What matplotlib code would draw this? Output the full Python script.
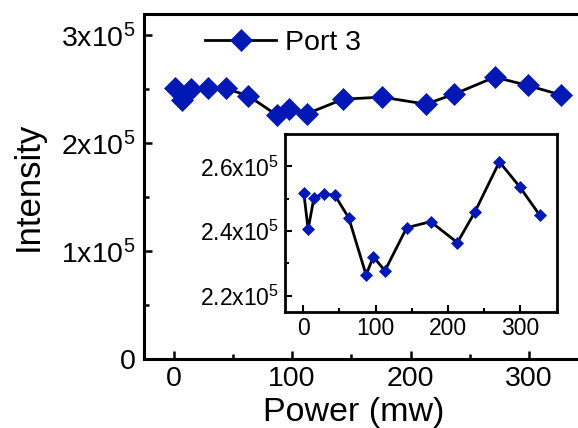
"""Port 3 intensity vs pump power, with a zoomed inset."""

import matplotlib
matplotlib.use("Agg")
import matplotlib.pyplot as plt
from matplotlib.ticker import FuncFormatter, MultipleLocator

power = [1, 7, 15, 29, 44, 63, 87, 97, 113, 143, 176, 213, 237, 271, 299, 327]
intensity = [2.518e5, 2.405e5, 2.503e5, 2.516e5, 2.510e5, 2.441e5, 2.264e5, 2.320e5,
             2.277e5, 2.410e5, 2.429e5, 2.364e5, 2.458e5, 2.614e5, 2.537e5, 2.448e5]
series_label = "Port 3"

BLUE = "#0019B5"

plt.rcParams["font.family"] = ["Liberation Sans", "DejaVu Sans"]
plt.rcParams["mathtext.fontset"] = "custom"
plt.rcParams["mathtext.rm"] = "Liberation Sans"
plt.rcParams["mathtext.default"] = "regular"


def sci(v, _pos, digits=0):
    if v == 0:
        return "0"
    return f"{v / 1e5:.{digits}f}x10$^5$"


fig = plt.figure(figsize=(5.78, 4.28), dpi=100)
ax = fig.add_axes([0.249, 0.1605, 0.769, 0.807])
ax.plot(power, intensity, color="black", lw=2, marker="D", ms=11,
        mfc=BLUE, mec=BLUE, mew=0.5, label=series_label)
ax.set_xlim(-25, 350)
ax.set_ylim(0, 3.2e5)
ax.xaxis.set_major_locator(MultipleLocator(100))
ax.xaxis.set_minor_locator(MultipleLocator(50))
ax.yaxis.set_major_locator(MultipleLocator(1e5))
ax.yaxis.set_minor_locator(MultipleLocator(0.5e5))
ax.yaxis.set_major_formatter(FuncFormatter(sci))
ax.tick_params(which="both", direction="in", width=1.8, labelsize=20.5)
ax.tick_params(axis="x", which="both", pad=5)
ax.tick_params(axis="y", which="both", pad=6)
ax.tick_params(which="major", length=6)
ax.tick_params(which="minor", length=3.5)
ax.spines["right"].set_visible(False)
for s in ax.spines.values():
    s.set_linewidth(2.2)
ax.set_xlabel("Power (mw)", fontsize=24.5, labelpad=0)
ax.set_ylabel("Intensity", fontsize=25)
ax.xaxis.set_label_coords((354 - 144) / 444.7, -0.108)
ax.yaxis.set_label_coords(-0.222, 0.50)
ax.legend(loc="center left", bbox_to_anchor=(205 / 578, 1 - 43 / 428),
          bbox_transform=fig.transFigure, frameon=False, fontsize=20.5,
          handlelength=2.5, handletextpad=0.3, borderpad=0, borderaxespad=0)

ins = fig.add_axes([0.493, 0.2717, 0.470, 0.415])
ins.plot(power, intensity, color="black", lw=2, marker="D", ms=6.5,
         mfc=BLUE, mec=BLUE, mew=0.5)
ins.set_xlim(-25, 350)
ins.set_ylim(2.15e5, 2.7e5)
ins.xaxis.set_major_locator(MultipleLocator(100))
ins.xaxis.set_minor_locator(MultipleLocator(50))
ins.yaxis.set_major_locator(MultipleLocator(0.2e5))
ins.yaxis.set_minor_locator(MultipleLocator(0.1e5))
ins.yaxis.set_major_formatter(FuncFormatter(lambda v, p: sci(v, p, 1)))
ins.tick_params(which="both", direction="in", width=1.5, labelsize=16.5, pad=4)
ins.tick_params(which="major", length=5)
ins.tick_params(which="minor", length=3)
for s in ins.spines.values():
    s.set_linewidth(2)

fig.savefig("out.png", dpi=100)
